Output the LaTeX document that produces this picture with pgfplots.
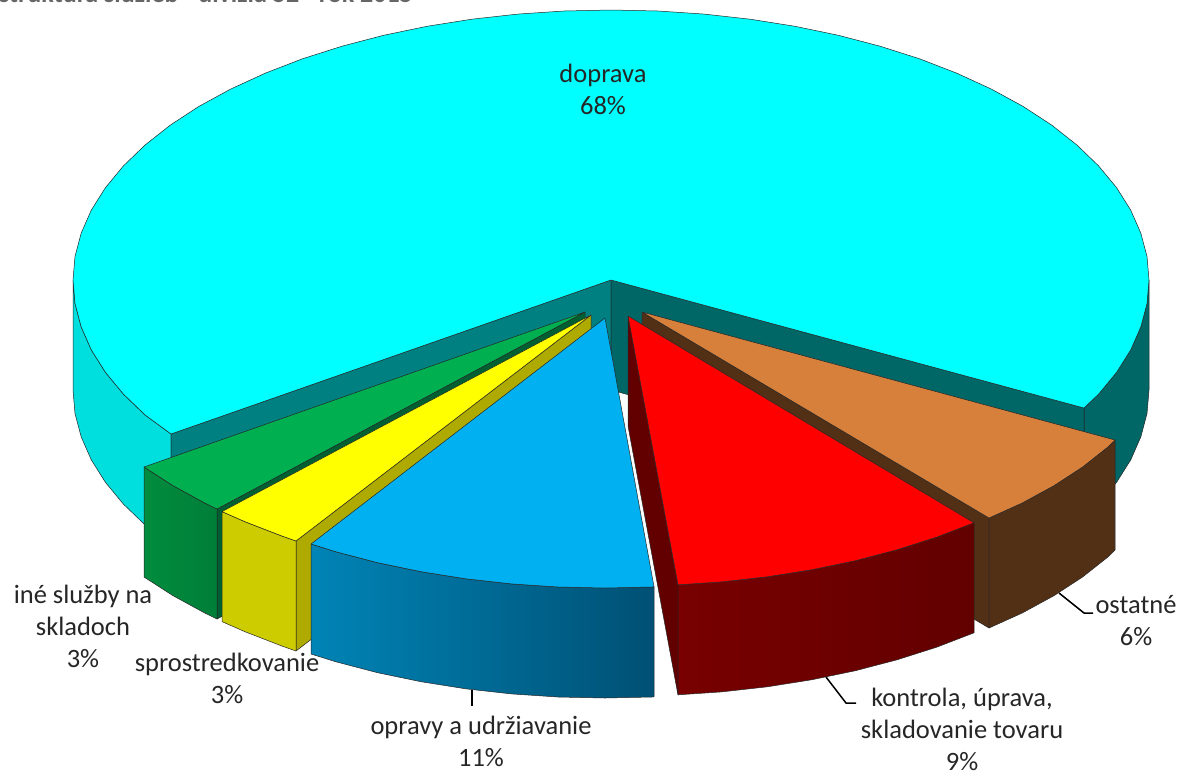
\documentclass[border=0pt]{standalone}
\usepackage{pgfplots}
\pgfplotsset{compat=1.18}
\usepackage{fontspec}
\setmainfont{Carlito}

% colours
\definecolor{cyantop}{RGB}{0,255,255}
\definecolor{cyanleft}{RGB}{0,222,222}
\definecolor{tealL}{RGB}{0,128,128}
\definecolor{tealR}{RGB}{0,102,102}
\definecolor{greentop}{RGB}{0,176,80}
\definecolor{greenwall}{RGB}{0,140,62}
\definecolor{greendark}{RGB}{0,96,50}
\definecolor{yellowtop}{RGB}{255,255,0}
\definecolor{yellowwall}{RGB}{204,204,0}
\definecolor{yellowdark}{RGB}{174,170,0}
\definecolor{bluetop}{RGB}{0,176,240}
\definecolor{blueL}{RGB}{0,132,182}
\definecolor{blueR}{RGB}{0,80,116}
\definecolor{redtop}{RGB}{255,0,0}
\definecolor{redL}{RGB}{120,0,0}
\definecolor{redR}{RGB}{98,0,0}
\definecolor{orangetop}{RGB}{214,128,60}
\definecolor{brownwall}{RGB}{82,48,22}

\tikzset{lab/.style={font=\fontsize{26.5}{32}\selectfont, align=center, text=black!85, anchor=center, inner sep=0pt}}

\begin{document}
\begin{tikzpicture}
\useasboundingbox (0,0) rectangle (1190pt,772pt);
\clip (0,0) rectangle (1190pt,772pt);
\begin{axis}[
  at={(0,0)}, anchor=south west,
  scale only axis, width=1190pt, height=772pt,
  xmin=0, xmax=1190, ymin=0, ymax=772, y dir=reverse,
  hide axis,
  every axis plot/.append style={draw=black!85, line width=0.5pt, mark=none, line join=round}
]
% doprava: outer walls, seen left and right
\addplot[fill=cyanleft] coordinates {
  (171,434)(145.1,415)(123.4,394.1)(105.4,372.3)(91.3,349.9)(81.2,326.9)(75,303.5)(73,280)
  (73,390)(75,413.5)(81.2,436.9)(91.3,459.9)(105.4,482.3)(123.4,504.1)(145.1,525)(171,544)} -- cycle;
\addplot[fill=tealR] coordinates {
  (1084,408)(1098.6,394.1)(1116.6,372.3)(1130.7,349.9)(1140.8,326.9)(1147,303.5)(1149,280)
  (1149,390)(1147,413.5)(1140.8,436.9)(1130.7,459.9)(1116.6,482.3)(1098.6,504.1)(1084,518)} -- cycle;
% doprava: cut walls
\addplot[fill=tealL] coordinates {(611,280)(171,434)(171,544)(611,390)} -- cycle;
\addplot[fill=tealR] coordinates {(611,280)(1084,408)(1084,518)(611,390)} -- cycle;
% doprava: top
\addplot[fill=cyantop] coordinates {
  (611,280)(1084,408)(1098.6,394.1)(1116.6,372.3)(1130.7,349.9)(1140.8,326.9)(1147,303.5)(1149,280)
  (1147,256.5)(1140.8,233.1)(1130.7,210.1)(1116.6,187.7)(1098.6,165.9)(1076.9,145)(1051.7,125.1)
  (1023.1,106.4)(991.4,89.1)(956.8,73.2)(919.6,58.8)(880,46.2)(838.4,35.3)(795,26.3)(750.2,19.2)
  (704.4,14.1)(657.9,11)(611,10)(564.1,11)(517.6,14.1)(471.8,19.2)(427,26.3)(383.6,35.3)(342,46.2)
  (302.4,58.8)(265.2,73.2)(230.6,89.1)(198.9,106.4)(170.3,125.1)(145.1,145)(123.4,165.9)(105.4,187.7)
  (91.3,210.1)(81.2,233.1)(75,256.5)(73,280)(75,303.5)(81.2,326.9)(91.3,349.9)(105.4,372.3)
  (123.4,394.1)(145.1,415)(171,434)} -- cycle;
% ostatne
\addplot[fill=brownwall] coordinates {(642,312)(989,518)(989,628)(642,422)} -- cycle;
\addplot[fill=brownwall] coordinates {
  (989,518)(1022.4,502.9)(1054.1,485.6)(1082.7,466.9)(1107.9,447)(1115,440)
  (1115,550)(1107.9,557)(1082.7,576.9)(1054.1,595.6)(1022.4,612.9)(989,628)} -- cycle;
\addplot[fill=orangetop] coordinates {
  (642,312)(1115,440)(1107.9,447)(1082.7,466.9)(1054.1,485.6)(1022.4,502.9)(989,518)} -- cycle;
% ine sluzby na skladoch
\addplot[fill=greendark] coordinates {(585,312)(217,509)(217,619)(585,422)} -- cycle;
\addplot[left color=greenwall, right color=greenwall!90!black] coordinates {
  (144,467)(172.9,485.6)(204.6,502.9)(217,509)(217,619)(204.6,612.9)(172.9,595.6)(144,577)} -- cycle;
\addplot[fill=greentop] coordinates {(585,312)(144,467)(172.9,485.6)(204.6,502.9)(217,509)} -- cycle;
% sprostredkovanie
\addplot[fill=yellowdark] coordinates {(591,315)(296,541)(296,651)(591,425)} -- cycle;
\addplot[fill=yellowwall] coordinates {
  (222,511.6)(245.2,521.8)(282.4,536.2)(296,541)(296,651)(282.4,646.2)(245.2,631.8)(222,621.6)} -- cycle;
\addplot[fill=yellowtop] coordinates {(591,315)(222,511.6)(245.2,521.8)(282.4,536.2)(296,541)} -- cycle;
% opravy a udrziavanie
\addplot[left color=blueL, right color=blueR] coordinates {
  (311,544)(336,551.8)(377.6,562.7)(421,571.7)(465.8,578.8)(511.6,583.9)(558.1,587)(605,588)(651.9,587)(654,586.7)
  (654,696.7)(651.9,697)(605,698)(558.1,697)(511.6,693.9)(465.8,688.8)(421,681.7)(377.6,672.7)(336,661.8)(311,654)} -- cycle;
\addplot[fill=bluetop] coordinates {
  (605,318)(311,544)(336,551.8)(377.6,562.7)(421,571.7)(465.8,578.8)(511.6,583.9)(558.1,587)(605,588)(651.9,587)(654,586.7)} -- cycle;
% kontrola, uprava, skladovanie tovaru
\addplot[fill=redR] coordinates {(628,316)(678,585)(678,695)(628,426)} -- cycle;
\addplot[left color=redL, right color=redR] coordinates {
  (678,584.8)(721.4,581.9)(767.2,576.8)(812,569.7)(855.4,560.7)(897,549.8)(936.6,537.2)(974,522.8)
  (974,632.8)(936.6,647.2)(897,659.8)(855.4,670.7)(812,679.7)(767.2,686.8)(721.4,691.9)(678,694.8)} -- cycle;
\addplot[fill=redtop] coordinates {
  (628,316)(678,584.8)(721.4,581.9)(767.2,576.8)(812,569.7)(855.4,560.7)(897,549.8)(936.6,537.2)(974,522.8)} -- cycle;
% leader lines
\addplot[draw=black, line width=1.5pt] coordinates {(1059,593)(1084,613)(1093,613)};
\addplot[draw=black, line width=1.5pt] coordinates {(826,677)(846,703)(856,703)};
\addplot[draw=black, line width=1.5pt] coordinates {(472,690)(472,706)};
% labels
\node[lab] at (axis cs:603,89) {doprava\\68\%};
\node[lab] at (axis cs:83,626) {iné služby na\\skladoch\\3\%};
\node[lab] at (axis cs:227,678) {sprostredkovanie\\3\%};
\node[lab] at (axis cs:481,741) {opravy a udržiavanie\\11\%};
\node[lab] at (axis cs:962,729) {kontrola, úprava,\\skladovanie tovaru\\9\%};
\node[lab] at (axis cs:1136,621) {ostatné\\6\%};
% title, cut off by the upper edge as in the reference
\node[font=\fontsize{26}{28}\selectfont\bfseries, text=black!60, anchor=base east, inner sep=0pt] at (axis cs:413,2) {štruktúra služieb - divízia 52 - rok 2015};
\end{axis}
\end{tikzpicture}
\end{document}
